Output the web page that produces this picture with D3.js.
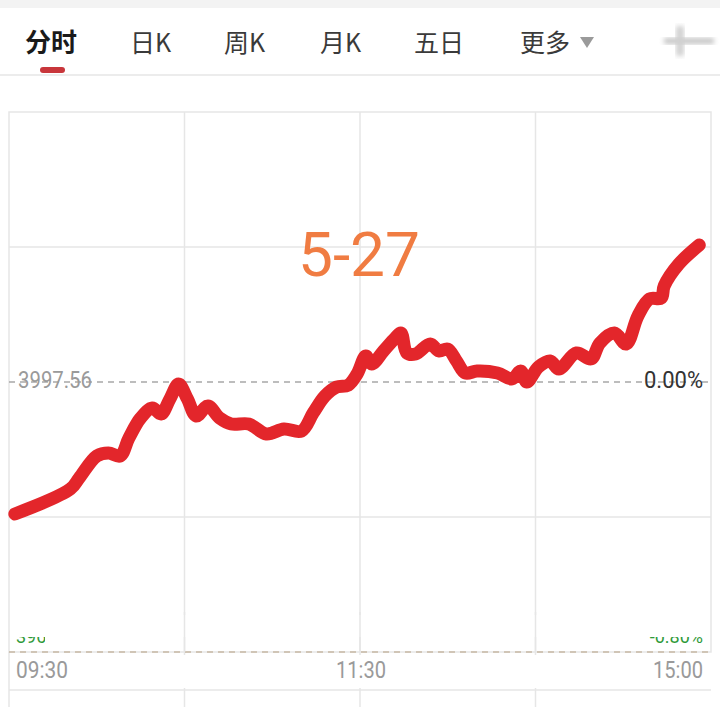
<!DOCTYPE html>
<html><head><meta charset="utf-8">
<script src="https://cdn.jsdelivr.net/npm/d3@7"></script>
<style>html,body{margin:0;padding:0;background:#fff;}svg{display:block;}</style>
</head><body>
<svg id="c" width="720" height="707"></svg>
<script>
const tabs = ["分时","日K","周K","月K","五日","更多"];
const tabX = [25,130,224,320,414,520];
const prevClose = 3997.56;
const halfRange = 32;
const minutes = [2,21,24,30,34,38,41,45,49,52,55,58,61,64,68,72,76,82,88,94,100,104,108,112,116,119,122,124,128,132,134,136,139,144,147,150,153,156,160,167,172,175,177,181,185,188,194,199,202,207,211,215,219,223,224,229,236];
const prices = [3981.92,3984.88,3986.18,3988.79,3989.15,3988.79,3990.92,3993.29,3994.48,3993.77,3995.55,3997.32,3995.55,3993.53,3994.72,3993.29,3992.58,3992.58,3991.40,3991.99,3991.75,3993.89,3995.90,3996.97,3997.20,3998.51,4000.64,3999.69,4001.23,4002.77,4003.37,4001.00,4000.88,4002.06,4001.23,4001.47,4000.05,3998.63,3998.86,3998.63,3997.92,3998.86,3997.56,3999.34,4000.05,3999.10,4001.00,4000.29,4002.18,4003.37,4002.06,4005.38,4007.40,4007.51,4008.94,4011.54,4013.79];
const timeTicks = [0,120,240];
const timeLabels = ["09:30","11:30","15:00"];
const gridMinutes = [60,120,180];
const dateLabel = "5-27";

const svg = d3.select("#c");
svg.append("rect").attr("x",0).attr("y",0).attr("width",720).attr("height",8).attr("fill","#f3f3f3");
tabs.forEach((t,i)=>{
  svg.append("text").attr("x",tabX[i]).attr("y",52)
    .attr("font-family","'Noto Sans CJK SC'").attr("font-size",i===0?26:25)
    .attr("font-weight",i===0?"bold":"normal")
    .attr("fill",i===0?"#1a1a1a":"#3a3a3a").text(t);
});
svg.append("path").attr("d","M580,37 L594,37 L587,48 Z").attr("fill","#9a9a9a");
svg.append("rect").attr("x",40).attr("y",67).attr("width",25).attr("height",6).attr("rx",3).attr("fill","#c8363b");
const defs = svg.append("defs");
defs.append("filter").attr("id","bl").append("feGaussianBlur").attr("stdDeviation",2.5);
svg.append("rect").attr("x",664).attr("y",38).attr("width",50).attr("height",6).attr("fill","#c4c4c4").attr("filter","url(#bl)");
svg.append("rect").attr("x",676).attr("y",26).attr("width",8).attr("height",30).attr("fill","#d0d0d0").attr("filter","url(#bl)");
svg.append("line").attr("x1",0).attr("x2",720).attr("y1",75).attr("y2",75).attr("stroke","#e6e6e6").attr("stroke-width",1.5);

const x = d3.scaleLinear().domain([0,240]).range([9,711]);
const y = d3.scaleLinear().domain([prevClose-halfRange, prevClose+halfRange]).range([652,112]);

const g = svg.append("g");
g.append("rect").attr("x",x(0)).attr("y",y.range()[1]).attr("width",x(240)-x(0)).attr("height",y.range()[0]-y.range()[1])
  .attr("fill","none").attr("stroke","#e6e6e6").attr("stroke-width",1.5);
[prevClose+halfRange/2, prevClose-halfRange/2].forEach(v=>{
  g.append("line").attr("x1",x(0)).attr("x2",x(240)).attr("y1",y(v)).attr("y2",y(v)).attr("stroke","#e6e6e6").attr("stroke-width",1.5);
});
gridMinutes.forEach(m=>{
  g.append("line").attr("x1",x(m)).attr("x2",x(m)).attr("y1",y.range()[1]).attr("y2",707).attr("stroke","#e6e6e6").attr("stroke-width",1.5);
});
g.append("line").attr("x1",x(0)).attr("x2",x(0)).attr("y1",652).attr("y2",707).attr("stroke","#e6e6e6").attr("stroke-width",1.5);
g.append("line").attr("x1",x(0)).attr("x2",x(240)).attr("y1",690).attr("y2",690).attr("stroke","#e6e6e6").attr("stroke-width",1.5);
svg.append("rect").attr("x",12).attr("y",655).attr("width",700).attr("height",33).attr("fill","#fff");

svg.append("text").attr("x",16).attr("y",643).attr("font-family","Roboto").attr("font-size",18).attr("fill","#2f9a3a").text((prevClose-halfRange).toFixed(2));
svg.append("text").attr("x",703).attr("y",643).attr("text-anchor","end").attr("font-family","Roboto").attr("font-size",18).attr("fill","#2f9a3a").text("-0.80%");
svg.append("rect").attr("x",12).attr("y",615).attr("width",696).attr("height",22).attr("fill","#fff");
svg.append("rect").attr("x",45).attr("y",615).attr("width",60).attr("height",35).attr("fill","#fff");
gridMinutes.forEach(m=>{
  svg.append("line").attr("x1",x(m)).attr("x2",x(m)).attr("y1",612).attr("y2",652).attr("stroke","#e6e6e6").attr("stroke-width",1.5);
});

g.append("line").attr("x1",x(0)).attr("x2",x(240)).attr("y1",y(prevClose)).attr("y2",y(prevClose))
  .attr("stroke","#a8a8a8").attr("stroke-width",1.5).attr("stroke-dasharray","6,5");
g.append("line").attr("x1",x(0)).attr("x2",x(240)).attr("y1",652).attr("y2",652)
  .attr("stroke","#c6b8a4").attr("stroke-width",1.5).attr("stroke-dasharray","6,5");

function label(px, py, txt, anchor, len, color){
  svg.append("text").attr("x",px).attr("y",py).attr("text-anchor",anchor)
    .attr("font-family","Roboto").attr("font-size",23).attr("fill",color)
    .attr("textLength",len).attr("lengthAdjust","spacingAndGlyphs").text(txt);
}
label(18, 388, prevClose.toFixed(2), "start", 74, "#9a9a9a");
label(703, 388, "0.00%", "end", 59, "#333");
timeTicks.forEach((m,i)=>{
  const anchor = i===0?"start":(i===timeTicks.length-1?"end":"middle");
  const px = i===0?16:(i===timeTicks.length-1?703:x(m)+1);
  label(px, 678, timeLabels[i], anchor, i===0?52:50, "#9a9a9a");
});

svg.append("text").attr("x",359).attr("y",276).attr("text-anchor","middle").attr("font-family","Roboto").attr("font-size",62).attr("fill","#f07c42")
  .attr("textLength",122).attr("lengthAdjust","spacingAndGlyphs").text(dateLabel);

const data = minutes.map((m,i)=>({m, p:prices[i]}));
const line = d3.line().x(d=>x(d.m)).y(d=>y(d.p)).curve(d3.curveCatmullRom.alpha(0.5));
svg.append("path").datum(data).attr("d",line).attr("fill","none").attr("stroke","#e3262b")
  .attr("stroke-width",13).attr("stroke-linecap","round").attr("stroke-linejoin","round");
</script>
</body></html>
